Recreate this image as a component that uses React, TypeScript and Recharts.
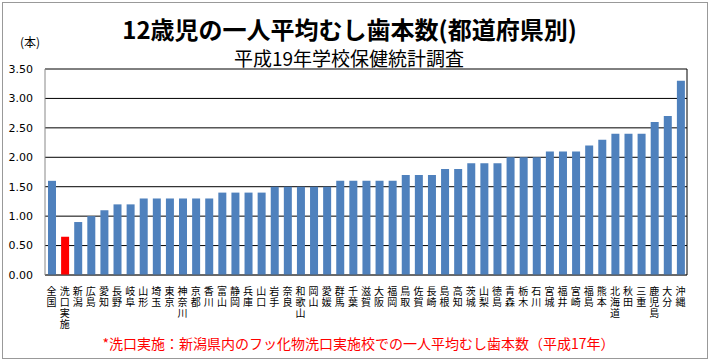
import { BarChart, Bar, XAxis, YAxis, CartesianGrid, Cell } from "recharts"

const prefectures = [
  "全国", "洗口実施", "新潟", "広島", "愛知", "長野", "岐阜", "山形", "埼玉", "東京",
  "神奈川", "京都", "香川", "富山", "静岡", "兵庫", "山口", "岩手", "奈良", "和歌山",
  "岡山", "愛媛", "群馬", "千葉", "滋賀", "大阪", "福岡", "鳥取", "佐賀", "長崎",
  "島根", "高知", "茨城", "山梨", "徳島", "青森", "栃木", "石川", "宮城", "福井",
  "宮崎", "福島", "熊本", "北海道", "秋田", "三重", "鹿児島", "大分", "沖縄",
]

const decayed = [
  1.6, 0.65, 0.9, 1.0, 1.1, 1.2, 1.2, 1.3, 1.3, 1.3,
  1.3, 1.3, 1.3, 1.4, 1.4, 1.4, 1.4, 1.5, 1.5, 1.5,
  1.5, 1.5, 1.6, 1.6, 1.6, 1.6, 1.6, 1.7, 1.7, 1.7,
  1.8, 1.8, 1.9, 1.9, 1.9, 2.0, 2.0, 2.0, 2.1, 2.1,
  2.1, 2.2, 2.3, 2.4, 2.4, 2.4, 2.6, 2.7, 3.3,
]

const yTicks = [0, 0.5, 1, 1.5, 2, 2.5, 3, 3.5]

const highlight = "洗口実施"

const data = prefectures.map((name, i) => ({ name, value: decayed[i] }))

const jp = '"Noto Sans CJK JP", "Noto Sans", sans-serif'

// vertical label: one <text> per character, stacked
function VerticalTick(props: any) {
  const { x, y, payload } = props
  const chars = Array.from(String(payload.value))
  return (
    <g>
      {chars.map((c, i) => (
        <text
          key={i}
          x={x}
          y={y + 12 + i * 11}
          textAnchor="middle"
          fontSize={10}
          fill="#000"
          fontFamily={jp}
        >
          {c}
        </text>
      ))}
    </g>
  )
}

export default function App() {
  return (
    <div
      style={{
        position: "absolute",
        left: 0,
        top: 0,
        width: 709,
        height: 361,
        background: "#fff",
        fontFamily: jp,
      }}
    >
      <div
        style={{
          position: "absolute",
          left: 2,
          top: 2,
          width: 704,
          height: 355,
          border: "1px solid #999",
        }}
      />
      <div
        style={{
          position: "absolute",
          left: 0,
          width: 699,
          top: 14,
          textAlign: "center",
          fontSize: 24,
          lineHeight: "30px",
          fontWeight: "bold",
          whiteSpace: "nowrap",
        }}
      >
        12歳児の一人平均むし歯本数(都道府県別)
      </div>
      <div
        style={{
          position: "absolute",
          left: 0,
          width: 698,
          top: 46,
          textAlign: "center",
          fontSize: 19,
          lineHeight: "24px",
          whiteSpace: "nowrap",
        }}
      >
        平成19年学校保健統計調査
      </div>
      <div style={{ position: "absolute", left: 20, top: 33, fontSize: 12 }}>(本)</div>
      <div
        style={{
          position: "absolute",
          left: 0,
          width: 717,
          top: 333,
          textAlign: "center",
          fontSize: 14,
          color: "#ff0000",
          whiteSpace: "nowrap",
        }}
      >
        *洗口実施：新潟県内のフッ化物洗口実施校での一人平均むし歯本数（平成17年）
      </div>
      <div style={{ position: "absolute", left: 0, top: 0 }}>
        <BarChart
          width={709}
          height={361}
          data={data}
          margin={{ top: 69, right: 21, left: 0, bottom: 0 }}
        >
          <CartesianGrid vertical={false} stroke="#000" strokeOpacity={1} />
          <XAxis
            dataKey="name"
            interval={0}
            height={86}
            tickLine={false}
            axisLine={{ stroke: "#555" }}
            tick={<VerticalTick />}
          />
          <YAxis
            width={45}
            domain={[0, 3.5]}
            ticks={yTicks}
            tickFormatter={(v: number) => v.toFixed(2)}
            tickLine={false}
            axisLine={{ stroke: "#888" }}
            tick={{ fontSize: 11, fill: "#000", fontFamily: "DejaVu Sans, sans-serif" }}
            tickMargin={6}
          />
          <YAxis
            yAxisId="frame"
            orientation="right"
            width={1}
            domain={[0, 3.5]}
            tick={false}
            tickLine={false}
            axisLine={{ stroke: "#000" }}
          />
          <Bar dataKey="value" barSize={8} isAnimationActive={false}>
            {data.map((d) => (
              <Cell key={d.name} fill={d.name === highlight ? "#ff0000" : "#4f81bd"} />
            ))}
          </Bar>
        </BarChart>
      </div>
    </div>
  )
}
